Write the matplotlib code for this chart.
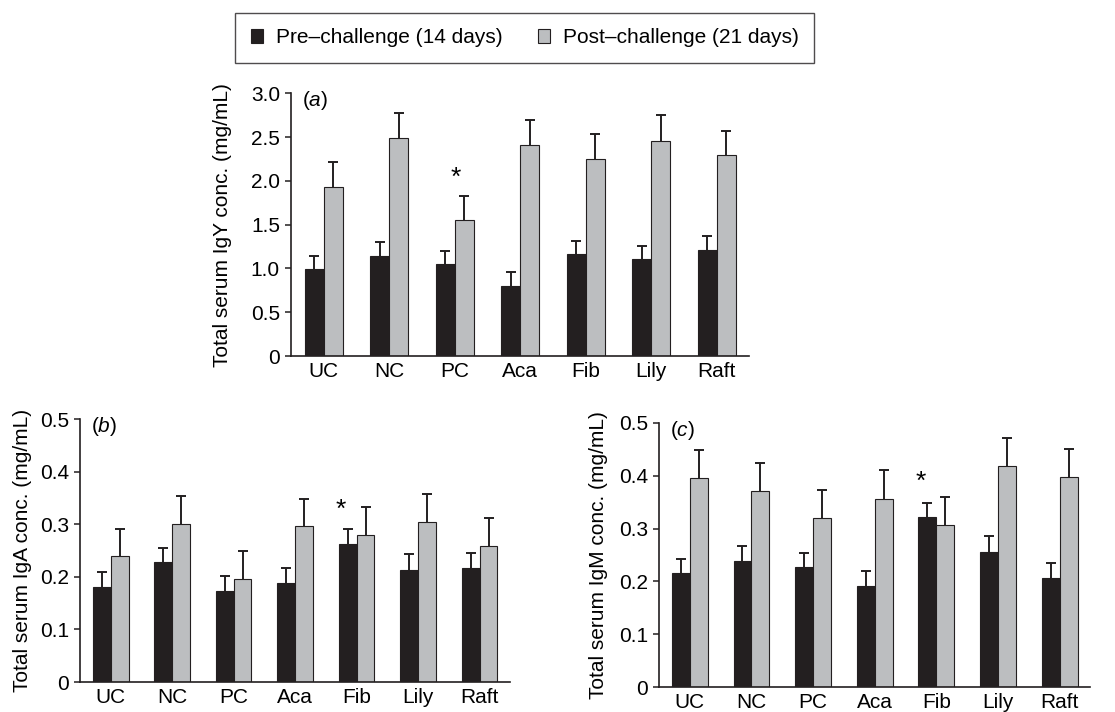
import numpy as np
import matplotlib
matplotlib.use("Agg")
import matplotlib.pyplot as plt
from matplotlib.patches import Patch

plt.rcParams['font.family'] = ['Liberation Sans', 'DejaVu Sans']
plt.rcParams['mathtext.fontset'] = 'custom'
plt.rcParams['mathtext.it'] = 'Liberation Sans:italic'
plt.rcParams['mathtext.rm'] = 'Liberation Sans'

# === data ===
groups = ["UC", "NC", "PC", "Aca", "Fib", "Lily", "Raft"]

igy_pre = [0.99, 1.14, 1.045, 0.80, 1.16, 1.11, 1.21]
igy_pre_se = [0.15, 0.16, 0.155, 0.16, 0.15, 0.15, 0.165]
igy_post = [1.93, 2.49, 1.55, 2.41, 2.25, 2.46, 2.29]
igy_post_se = [0.28, 0.29, 0.28, 0.29, 0.28, 0.29, 0.28]

iga_pre = [0.180, 0.228, 0.174, 0.189, 0.263, 0.214, 0.217]
iga_pre_se = [0.029, 0.028, 0.028, 0.028, 0.028, 0.029, 0.029]
iga_post = [0.239, 0.301, 0.196, 0.296, 0.279, 0.304, 0.259]
iga_post_se = [0.053, 0.053, 0.053, 0.053, 0.054, 0.053, 0.054]

igm_pre = [0.215, 0.238, 0.227, 0.191, 0.322, 0.256, 0.206]
igm_pre_se = [0.027, 0.028, 0.027, 0.029, 0.027, 0.029, 0.029]
igm_post = [0.396, 0.371, 0.319, 0.356, 0.306, 0.419, 0.398]
igm_post_se = [0.053, 0.053, 0.054, 0.054, 0.053, 0.053, 0.053]

igy_ticks = [0, 0.5, 1.0, 1.5, 2.0, 2.5, 3.0]
igy_ticklabels = ["0", "0.5", "1.0", "1.5", "2.0", "2.5", "3.0"]
small_ticks = [0, 0.1, 0.2, 0.3, 0.4, 0.5]
small_ticklabels = ["0", "0.1", "0.2", "0.3", "0.4", "0.5"]

# significance marks: (group position, y)
igy_star = (2.02, 2.03)
iga_star = (3.74, 0.327)
igm_star = (3.74, 0.388)

dark = "#231f20"
grey = "#bcbec0"
fs = 15

fig = plt.figure(figsize=(11.15, 7.12), dpi=100)


def draw_bars(ax, pos, vals, se, color, w):
    vals = np.array(vals)
    se = np.array(se)
    ax.bar(pos, vals, w, color=color, edgecolor=dark, linewidth=0.8, zorder=2)
    # one-sided error bars, cap only at the top
    ax.errorbar(pos, vals, yerr=[np.zeros(len(vals)), se], fmt='none',
                ecolor=dark, elinewidth=1.4, capsize=0, zorder=1)
    ax.plot(pos, vals + se, ls='none', marker='_', ms=7.5, mew=1.4,
            color=dark, zorder=1)


def panel(rect, pre, pre_se, post, post_se, ylim, ticks, ticklabels, ylabel, tag, star, labx):
    ax = fig.add_axes(rect)
    x = np.arange(len(groups))
    w = 0.29
    draw_bars(ax, x - w / 2, pre, pre_se, dark, w)
    draw_bars(ax, x + w / 2, post, post_se, grey, w)
    ax.set_xlim(-0.5, len(groups) - 0.5)
    ax.set_ylim(*ylim)
    ax.set_xticks(x)
    ax.set_xticklabels(groups, fontsize=fs)
    ax.set_yticks(ticks)
    ax.set_yticklabels(ticklabels, fontsize=fs)
    ax.tick_params(axis='x', length=0, pad=4)
    ax.tick_params(axis='y', length=4, width=1.1, color=dark, pad=4)
    for s in ["top", "right"]:
        ax.spines[s].set_visible(False)
    for s in ["left", "bottom"]:
        ax.spines[s].set_linewidth(1.2)
        ax.spines[s].set_color(dark)
    ax.set_ylabel(ylabel, fontsize=fs)
    ax.yaxis.set_label_coords(labx, 0.5)
    ax.text(0.025, 1.015, r"($\mathit{" + tag + "}$)", transform=ax.transAxes,
            fontsize=fs, va='top', ha='left')
    ax.text(star[0], star[1], "*", fontsize=19, ha='center', va='center')
    return ax


panel([0.261, 0.500, 0.411, 0.369], igy_pre, igy_pre_se, igy_post, igy_post_se,
      (0, 3.0), igy_ticks, igy_ticklabels, "Total serum IgY conc. (mg/mL)", "a", igy_star, -0.129)
panel([0.0717, 0.0421, 0.386, 0.369], iga_pre, iga_pre_se, iga_post, iga_post_se,
      (0, 0.5), small_ticks, small_ticklabels, "Total serum IgA conc. (mg/mL)", "b", iga_star, -0.112)
panel([0.591, 0.0351, 0.387, 0.371], igm_pre, igm_pre_se, igm_post, igm_post_se,
      (0, 0.5), small_ticks, small_ticklabels, "Total serum IgM conc. (mg/mL)", "c", igm_star, -0.118)

handles = [Patch(facecolor=dark, edgecolor=dark, linewidth=0.8),
           Patch(facecolor=grey, edgecolor=dark, linewidth=0.8)]
leg = fig.legend(handles, ["Pre\u2013challenge (14 days)", "Post\u2013challenge (21 days)"],
                 loc='upper center', bbox_to_anchor=(0.4704, 0.982), ncol=2,
                 fontsize=fs, frameon=True, fancybox=False, handlelength=0.6,
                 handleheight=0.6, handletextpad=0.6, columnspacing=1.7,
                 borderpad=0.75, borderaxespad=0)
leg.get_frame().set_edgecolor(dark)
leg.get_frame().set_linewidth(1.0)

fig.savefig("out.png", dpi=100)
